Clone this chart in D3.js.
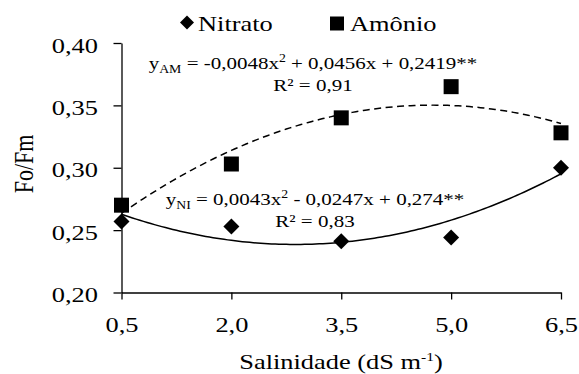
<!DOCTYPE html>
<html>
<head>
<meta charset="utf-8">
<script src="https://cdn.jsdelivr.net/npm/d3@7"></script>
<style>
  body { margin: 0; background: #fff; }
</style>
</head>
<body>
<svg id="chart" width="579" height="374" font-family="'Liberation Serif', 'Times New Roman', Times, serif"></svg>
<script>
// data
const salinity = [0.5, 2.0, 3.5, 5.0, 6.5];
const nitrato = [0.257, 0.253, 0.241, 0.244, 0.300];
const amonio = [0.270, 0.303, 0.340, 0.365, 0.328];
const xTicks = [0.5, 2.0, 3.5, 5.0, 6.5];
const yTicks = [0.20, 0.25, 0.30, 0.35, 0.40];
// regression coefficients as printed on the chart (a*x^2 + b*x + c)
const coefNitrato = [0.0043, -0.0247, 0.274];
const coefAmonio = [-0.0048, 0.0456, 0.2419];

const SX = 1.2; // the original picture is stretched horizontally
const FONT = "'Liberation Serif', 'Times New Roman', Times, serif";
const comma = f => v => d3.format(f)(v).replace('.', ',');

const svg = d3.select('#chart');
const x = d3.scaleLinear().domain([0.5, 6.5]).range([121.5, 561]);
const y = d3.scaleLinear().domain([0.2, 0.4]).range([292.5, 43]);

function stretched(sel, px, py, anchor, size) {
  return sel.append('text')
    .attr('transform', `translate(${px},${py}) scale(${SX},1)`)
    .attr('text-anchor', anchor)
    .attr('font-family', FONT)
    .attr('font-size', size)
    .attr('fill', '#000');
}

/* axes */
const gy = svg.append('g').attr('transform', 'translate(121.5,0)')
  .call(d3.axisLeft(y).tickValues(yTicks).tickSize(8).tickSizeOuter(0).tickFormat(comma('.2f')));
gy.selectAll('.tick text')
  .attr('x', null).attr('dy', null)
  .attr('transform', `translate(-23.5,9) scale(${SX},1)`);

const gx = svg.append('g').attr('transform', 'translate(0,292.5)')
  .call(d3.axisBottom(x).tickValues(xTicks).tickSize(7).tickSizeOuter(0).tickFormat(comma('.1f')));
gx.selectAll('.tick text')
  .attr('y', null).attr('dy', null)
  .attr('transform', `translate(0,39) scale(${SX},1)`);

[gy, gx].forEach(g => {
  g.attr('font-family', FONT).attr('font-size', 22);
  g.selectAll('text').attr('font-family', FONT).attr('font-size', 22).attr('fill', '#000');
  g.selectAll('.domain, .tick line').attr('stroke', '#000').attr('stroke-width', 1.3);
});

/* axis titles */
svg.append('text')
  .attr('transform', `translate(33,164) scale(${SX},1) rotate(-90)`)
  .attr('text-anchor', 'middle').attr('font-family', FONT)
  .attr('font-size', 22).text('Fo/Fm');

const xt = stretched(svg, 341, 369, 'middle', 22);
xt.append('tspan').text('Salinidade (dS m');
xt.append('tspan').attr('font-size', 13).attr('dy', -8).text('-1');
xt.append('tspan').attr('dy', 8).text(')');

/* trend lines */
const xs = d3.range(0.5, 6.5001, 0.05);
const poly = c => v => c[0] * v * v + c[1] * v + c[2];
const line = d3.line().x(d => x(d[0])).y(d => y(d[1]));

svg.append('path')
  .datum(xs.map(v => [v, poly(coefAmonio)(v)]))
  .attr('d', line).attr('fill', 'none').attr('stroke', '#000')
  .attr('stroke-width', 1.5).attr('stroke-dasharray', '7,4.5');

svg.append('path')
  .datum(xs.map(v => [v, poly(coefNitrato)(v)]))
  .attr('d', line).attr('fill', 'none').attr('stroke', '#000')
  .attr('stroke-width', 1.5);

/* markers */
const diamond = r => `M0,${-r}L${r},0L0,${r}L${-r},0Z`;
const square = s => `M${-s / 2},${-s / 2}h${s}v${s}h${-s}Z`;

svg.append('g').selectAll('path')
  .data(salinity.map((s, i) => [s, amonio[i]]))
  .enter().append('path')
    .attr('transform', d => `translate(${x(d[0])},${y(d[1])})`)
    .attr('d', square(15)).attr('fill', '#000');

svg.append('g').selectAll('path')
  .data(salinity.map((s, i) => [s, nitrato[i]]))
  .enter().append('path')
    .attr('transform', d => `translate(${x(d[0])},${y(d[1])})`)
    .attr('d', diamond(8)).attr('fill', '#000');

/* legend */
const legend = [
  { name: 'Nitrato', shape: diamond(7), mx: 187, my: 22.5, tx: 198 },
  { name: 'Amônio', shape: square(14), mx: 337, my: 23.5, tx: 350 }
];
legend.forEach(d => {
  svg.append('path').attr('transform', `translate(${d.mx},${d.my})`)
    .attr('d', d.shape).attr('fill', '#000');
  stretched(svg, d.tx, 31, 'start', 22).text(d.name);
});

/* equations */
function equation(cx, by, sub, a, rest, r2) {
  const t = stretched(svg, cx, by, 'middle', 17.5);
  t.append('tspan').text('y');
  t.append('tspan').attr('font-size', 11.5).attr('dy', 4).text(sub);
  t.append('tspan').attr('dy', -4).text(' = ' + a + 'x');
  t.append('tspan').attr('font-size', 11.5).attr('dy', -7).text('2');
  t.append('tspan').attr('dy', 7).text(rest);
  stretched(svg, cx, by + 22, 'middle', 17.5).text('R² = ' + r2);
}
equation(313, 69, 'AM', '-0,0048', ' + 0,0456x + 0,2419**', '0,91');
equation(315, 205, 'NI', '0,0043', ' - 0,0247x + 0,274**', '0,83');
</script>
</body>
</html>
